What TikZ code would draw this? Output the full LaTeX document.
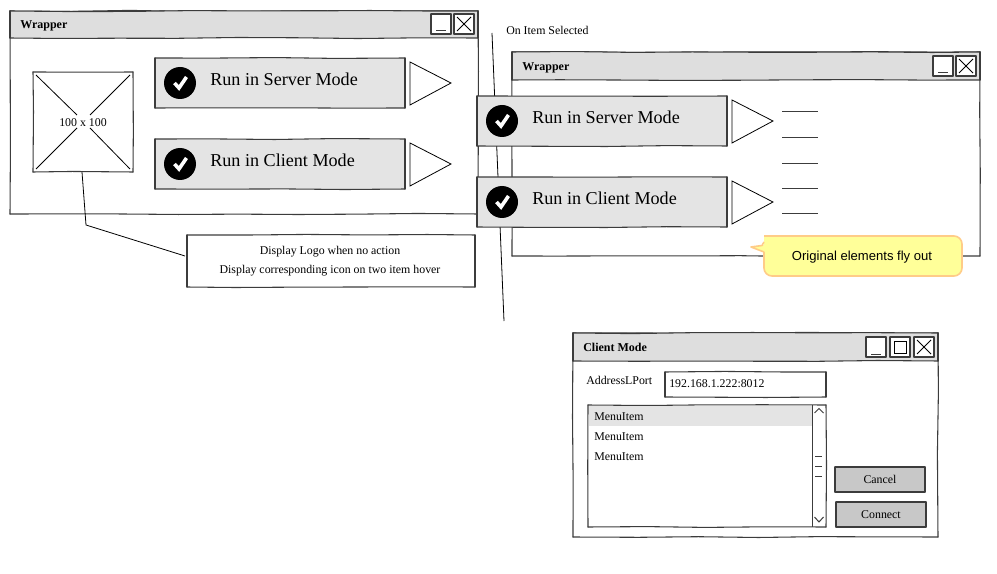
\documentclass[tikz,border=0pt]{standalone}
\usepackage{fontspec}
\setmainfont{Liberation Serif}
\newfontfamily\calloutfont{Liberation Sans}
\usetikzlibrary{decorations.pathmorphing,calc}
\definecolor{inkc}{HTML}{3C3C3C}
\definecolor{titlec}{HTML}{DEDEDE}
\definecolor{panelc}{HTML}{E4E4E4}
\definecolor{btnc}{HTML}{C8C8C8}
\definecolor{noteback}{HTML}{FFFF99}
\definecolor{noteline}{HTML}{FFCC88}
\tikzset{
  boxline/.style={draw=inkc,line width=.8pt,line cap=round,decorate,decoration={random steps,segment length=45pt,amplitude=.45pt}},
  shapebox/.style={rectangle,inner sep=0pt,outer sep=0pt},
  winbox/.style={shapebox,fill=white},
  titlebox/.style={shapebox,fill=titlec},
  panelbox/.style={shapebox,fill=panelc},
  greybtn/.style={shapebox,fill=btnc,font=\fontsize{8.9pt}{11pt}\selectfont},
  plainbox/.style={shapebox,fill=white},
  thinline/.style={draw=black,line width=.6pt},
  dashline/.style={draw=inkc,line width=.75pt},
  wintitle/.style={inner sep=0pt,anchor=west,font=\fontsize{9pt}{11pt}\selectfont\bfseries},
  smalltext/.style={inner sep=0pt,font=\fontsize{8.9pt}{11pt}\selectfont},
  runtext/.style={inner sep=0pt,anchor=west,font=\fontsize{13.6pt}{16pt}\selectfont},
  tickdisc/.style={circle,fill=black,minimum size=24pt,inner sep=0pt,outer sep=0pt},
  tickline/.style={draw=white,line width=2.7pt},
  playtri/.style={draw=black,line width=.6pt,fill=white,line join=miter},
}
% name, x1, y1, x2, y2, style, text
\newcommand{\pxbox}[7]{%
  \pgfmathsetlengthmacro{\bw}{(#4-#2)*.75pt}%
  \pgfmathsetlengthmacro{\bh}{(#5-#3)*.75pt}%
  \node[#6,minimum width=\bw,minimum height=\bh] (#1) at ({(#2+#4)/2},{(#3+#5)/2}) {#7};%
  \draw[boxline] (#1.north west) -- (#1.north east);%
  \draw[boxline] (#1.north east) -- (#1.south east);%
  \draw[boxline] (#1.south east) -- (#1.south west);%
  \draw[boxline] (#1.south west) -- (#1.north west);%
}
\newcommand{\minbtn}[3]{%
  \pxbox{#1}{#2}{#3}{#2+20}{#3+20}{plainbox}{}%
  \draw[dashline] (#2+5,#3+17) -- (#2+15,#3+17);%
}
\newcommand{\closebtn}[3]{%
  \pxbox{#1}{#2}{#3}{#2+20}{#3+20}{plainbox}{}%
  \draw[thinline] (#2+3,#3+3) -- (#2+17,#3+17) (#2+17,#3+3) -- (#2+3,#3+17);%
}
\newcommand{\runpanel}[4]{%
  \pxbox{#1}{#2}{#3}{#2+250}{#3+50}{panelbox}{}%
  \node[tickdisc] (#1disc) at (#2+25,#3+25) {};%
  \draw[tickline] (#2+19.5,#3+25) -- (#2+24,#3+30) -- (#2+31.5,#3+19);%
  \node[runtext] (#1text) at (#2+55,#3+21.5) {#4};%
  \draw[playtri] (#2+255,#3+4) -- (#2+296,#3+25) -- (#2+255,#3+47) -- cycle;%
}
\begin{document}
\begin{tikzpicture}[x=.75pt,y=-.75pt]
\useasboundingbox (0,0) rectangle (997,574);
\fill[white] (0,0) rectangle (997,574);

% left window
\pxbox{leftwin}{10}{11}{478}{214}{winbox}{}
\pxbox{lefttitle}{10}{11}{478}{38}{titlebox}{}
\node[wintitle] (lefttitletext) at (20,26) {Wrapper};
\minbtn{leftmin}{431}{14}
\closebtn{leftclose}{454}{14}

% image placeholder
\pxbox{logo}{33}{72}{133}{172}{plainbox}{}
\node[smalltext] (logotext) at (83,122.5) {100 x 100};
\draw[thinline] (36,75) -- (77,115) (130,75) -- (90,115) (36,169) -- (77,128) (130,169) -- (90,128);

\runpanel{leftserver}{155}{58}{Run in Server Mode}
\runpanel{leftclient}{155}{139}{Run in Client Mode}

% note
\pxbox{note}{187}{235}{475}{287}{plainbox}{}
\node[smalltext] (noteA) at (330,252) {Display Logo when no action};
\node[smalltext] (noteB) at (330,271) {Display corresponding icon on two item hover};
\coordinate (bend) at (86,225);
\draw[thinline] ($(logo.south)+(-1,0)$) -- (bend) -- ($(note.west)+(-2,-5)$);

% separator
\coordinate (septop) at (492,33);
\coordinate (sepbot) at (504,321);
\draw[thinline] (septop) -- (sepbot);
\node[smalltext,anchor=west] (selected) at (506,30) {On Item Selected};

% right window
\pxbox{rightwin}{512}{52}{980}{256}{winbox}{}
\pxbox{righttitle}{512}{52}{980}{80}{titlebox}{}
\node[wintitle] (righttitletext) at (522,68) {Wrapper};
\minbtn{rightmin}{933}{56}
\closebtn{rightclose}{956}{56}
\runpanel{rightserver}{477}{96}{Run in Server Mode}
\runpanel{rightclient}{477}{177}{Run in Client Mode}
\foreach \yy in {112,138,163.5,188.5,213.5}
  \draw[dashline] (782,\yy) -- (818,\yy);

% callout
\draw[draw=noteline,fill=noteback,line width=1.2pt,rounded corners=6pt]
  (764,236) -- (962,236) -- (962,276) -- (764,276) -- (764,252);
\fill[noteback] (770,238) -- (764,252) -- (751,247) -- (764,245) -- cycle;
\draw[draw=noteline,line width=1.2pt,line join=round] (764,252) -- (751,247) -- (762,245.5) -- (764,242);
\node[inner sep=0pt,font=\calloutfont\fontsize{9.8pt}{12pt}\selectfont] (callout) at (862,257) {Original elements fly out};

% client mode window
\pxbox{clientwin}{573}{333}{938}{537}{winbox}{}
\pxbox{clienttitle}{573}{333}{938}{361}{titlebox}{}
\node[wintitle] (clienttitletext) at (583,347) {Client Mode};
\minbtn{clientmin}{866}{337}
\pxbox{clientmax}{890}{337}{910}{357}{plainbox}{}
\draw[thinline] (894,341) rectangle (906,353);
\closebtn{clientclose}{914}{337}
\node[smalltext,anchor=west] (addrlabel) at (586,380) {AddressLPort};
\pxbox{addrbox}{665}{372}{826}{397}{plainbox}{}
\node[smalltext,anchor=west] (addrtext) at (669,383.5) {192.168.1.222:8012};

% list
\pxbox{listbox}{588}{405}{826}{527}{plainbox}{}
\fill[panelc] (589,406) rectangle (812,426);
\draw[dashline] (812,405) -- (812,527);
\draw[dashline] (814.5,413) -- (819,408.5) -- (823.5,413);
\draw[dashline] (814.5,517) -- (819,522) -- (823.5,517);
\foreach \yy in {456,466,476}
  \draw[dashline] (815,\yy) -- (822,\yy);
\node[smalltext,anchor=west] (itemA) at (594,417) {MenuItem};
\node[smalltext,anchor=west] (itemB) at (594,437) {MenuItem};
\node[smalltext,anchor=west] (itemC) at (594,457) {MenuItem};

\pxbox{cancelbtn}{835}{467}{925}{492}{greybtn}{Cancel}
\pxbox{connectbtn}{836}{502}{926}{527}{greybtn}{Connect}
\end{tikzpicture}
\end{document}
